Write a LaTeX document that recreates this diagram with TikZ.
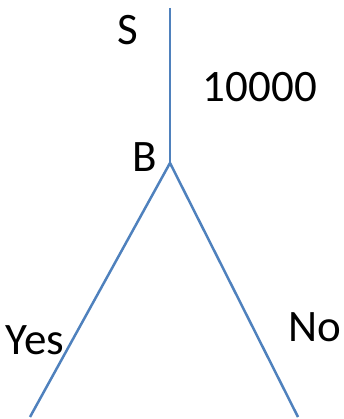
\documentclass[tikz,border=0pt]{standalone}
\usepackage{fontspec}
\setmainfont{Carlito}
\definecolor{branchblue}{RGB}{79,129,189}
\begin{document}
\begin{tikzpicture}[
      x=1pt, y=1pt,
      branch/.style={
          draw=branchblue, line width=2.5pt
      },
      treelabel/.style={
          font=\fontsize{45}{50}\selectfont, anchor=base, inner sep=0pt
      }
  ]
    \useasboundingbox (0,0) rectangle (344,419);

    % Tree points
    \coordinate (top) at (170,411);
    \coordinate (b) at (170,256);
    \coordinate (yesend) at (30,2);
    \coordinate (noend) at (298,2);

    % Labels
    \node[treelabel] (s) at (128,374) {S};
    \node[treelabel] (count) at (260,317) {10000};
    \node[treelabel] (blabel) at (145,247) {B};
    \node[treelabel] (yes) at (35,64) {Yes};
    \node[treelabel] (no) at (315,77) {No};

    % Edges
    \draw[branch] (top) -- (b);
    \draw[branch] (b) -- (yesend);
    \draw[branch] (b) -- (noend);
  \end{tikzpicture}
\end{document}
